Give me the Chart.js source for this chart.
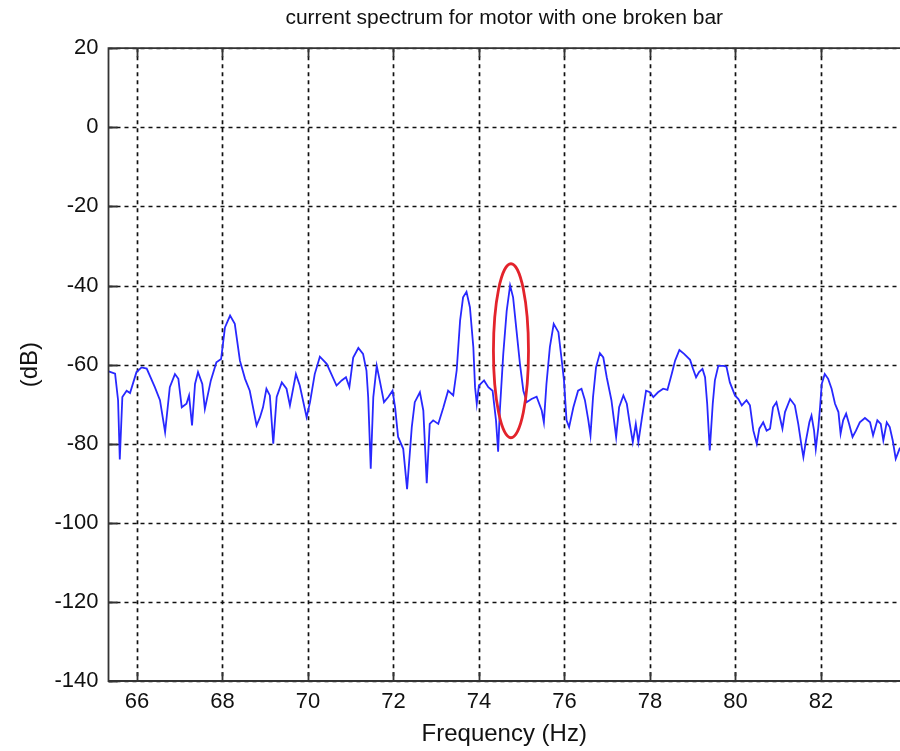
<!DOCTYPE html>
<html>
<head>
<meta charset="utf-8">
<script src="https://cdn.jsdelivr.net/npm/chart.js@4.4.1/dist/chart.umd.min.js"></script>
<style>
  html, body { margin: 0; padding: 0; background: #fff; overflow: hidden; }
  canvas { display: block; }
</style>
</head>
<body>
<canvas id="c" width="900" height="751"></canvas>
<script>
// ---- data ----
const freqHz = [
  65.34, 65.49, 65.56, 65.60, 65.66, 65.76, 65.84, 65.99, 66.11, 66.23,
  66.42, 66.54, 66.66, 66.77, 66.89, 66.97, 67.05, 67.16, 67.22, 67.29,
  67.36, 67.43, 67.53, 67.59, 67.73, 67.86, 67.97, 68.06, 68.18, 68.29,
  68.41, 68.53, 68.64, 68.80, 68.88, 68.95, 69.03, 69.11, 69.19, 69.27,
  69.39, 69.50, 69.58, 69.72, 69.81, 69.97, 70.05, 70.16, 70.28, 70.44,
  70.67, 70.79, 70.89, 70.97, 71.06, 71.18, 71.29, 71.37, 71.41, 71.47,
  71.53, 71.61, 71.68, 71.78, 71.88, 71.98, 72.04, 72.11, 72.23, 72.32,
  72.43, 72.50, 72.62, 72.70, 72.78, 72.85, 72.93, 73.05, 73.17, 73.28,
  73.40, 73.48, 73.56, 73.63, 73.71, 73.79, 73.87, 73.91, 73.95, 74.00,
  74.12, 74.22, 74.32, 74.40, 74.45, 74.49, 74.57, 74.65, 74.73, 74.80,
  74.88, 74.96, 75.04, 75.12, 75.23, 75.35, 75.47, 75.52, 75.58, 75.66,
  75.75, 75.86, 75.93, 75.99, 76.05, 76.11, 76.21, 76.32, 76.40, 76.48,
  76.56, 76.61, 76.67, 76.74, 76.83, 76.91, 76.99, 77.10, 77.21, 77.28,
  77.38, 77.46, 77.53, 77.60, 77.67, 77.73, 77.81, 77.91, 78.00, 78.08,
  78.19, 78.31, 78.41, 78.51, 78.59, 78.69, 78.80, 78.94, 79.01, 79.08,
  79.15, 79.23, 79.29, 79.34, 79.40, 79.47, 79.52, 79.60, 79.72, 79.79,
  79.87, 79.99, 80.07, 80.15, 80.26, 80.34, 80.42, 80.50, 80.56, 80.65,
  80.73, 80.81, 80.88, 80.96, 81.04, 81.10, 81.16, 81.28, 81.39, 81.47,
  81.55, 81.59, 81.65, 81.73, 81.78, 81.84, 81.88, 81.94, 81.98, 82.02,
  82.09, 82.17, 82.25, 82.33, 82.41, 82.46, 82.52, 82.59, 82.66, 82.74,
  82.82, 82.91, 83.03, 83.15, 83.22, 83.32, 83.40, 83.46, 83.54, 83.61,
  83.68, 83.75, 83.85
];
const levelDb = [
  -61.7, -62.3, -69.0, -84.0, -68.2, -66.6, -67.2, -61.9, -60.7, -61.0,
  -65.7, -69.0, -77.1, -65.7, -62.4, -63.6, -70.8, -69.9, -67.8, -75.4,
  -64.9, -61.9, -64.9, -71.2, -64.0, -59.4, -58.6, -50.6, -47.6, -49.7,
  -59.0, -63.6, -66.6, -75.4, -73.3, -70.8, -66.1, -67.8, -80.0, -68.2,
  -64.5, -66.1, -70.3, -62.4, -65.3, -73.3, -69.5, -62.4, -58.0, -59.8,
  -65.3, -64.0, -63.2, -65.7, -58.2, -55.8, -57.3, -61.5, -68.2, -86.3,
  -68.2, -60.3, -64.0, -69.5, -68.2, -66.6, -70.8, -78.3, -81.3, -91.5,
  -75.8, -69.5, -67.0, -71.6, -90.0, -75.0, -74.1, -75.0, -70.8, -66.6,
  -67.8, -61.5, -48.9, -43.0, -41.6, -45.5, -55.6, -65.7, -69.9, -65.3,
  -64.0, -65.7, -66.6, -74.1, -82.0, -71.6, -57.3, -46.4, -40.0, -43.0,
  -51.4, -59.8, -66.6, -69.5, -68.7, -68.1, -71.6, -74.6, -64.9, -55.6,
  -49.7, -51.8, -58.2, -64.0, -74.1, -75.8, -70.8, -66.6, -66.1, -69.0,
  -74.1, -77.9, -68.2, -60.7, -57.1, -58.2, -63.2, -69.0, -78.3, -70.8,
  -67.8, -69.9, -75.0, -79.6, -75.0, -79.6, -73.7, -66.6, -67.0, -68.2,
  -67.0, -66.1, -66.4, -62.4, -59.0, -56.3, -57.3, -58.8, -61.1, -63.2,
  -61.9, -61.1, -63.2, -69.9, -81.7, -69.9, -64.0, -60.3, -60.3, -60.5,
  -64.5, -67.8, -68.7, -70.3, -69.0, -70.3, -76.7, -80.0, -76.2, -74.6,
  -76.7, -76.2, -70.8, -69.5, -73.3, -76.2, -72.0, -68.7, -70.3, -75.0,
  -80.8, -83.4, -79.2, -74.6, -72.9, -76.7, -81.3, -75.8, -70.8, -64.9,
  -62.4, -63.6, -66.1, -69.9, -72.0, -77.5, -74.1, -72.4, -75.0, -78.3,
  -76.7, -74.6, -73.5, -74.6, -77.9, -74.1, -75.0, -79.2, -74.6, -75.8,
  -79.2, -83.8, -81.0
];
const xTickValues = [66, 68, 70, 72, 74, 76, 78, 80, 82];
const yTickValues = [-140, -120, -100, -80, -60, -40, -20, 0, 20];
const titleText = 'current spectrum for motor with one broken bar';
const xTitle = 'Frequency (Hz)';
const yTitle = '(dB)';
// marked sideband (red ellipse), in data units
const markFreq = 74.75, markDb = -56.5, markHalfHz = 0.41, markHalfDb = 22;

const FONT = 'Arial, "Liberation Sans", sans-serif';

const framePlugin = {
  id: 'matlabFrame',
  beforeDatasetsDraw(chart) {
    const {ctx, chartArea: a, scales: {x, y}} = chart;
    ctx.save();
    ctx.strokeStyle = '#111';
    ctx.lineWidth = 1.7;
    ctx.setLineDash([4, 4]);
    ctx.beginPath();
    xTickValues.forEach(v => {
      const px = Math.round(x.getPixelForValue(v)) + 0.5;
      ctx.moveTo(px, a.top); ctx.lineTo(px, a.bottom);
    });
    yTickValues.forEach(v => {
      const py = Math.round(y.getPixelForValue(v)) + 0.5;
      ctx.moveTo(a.left, py); ctx.lineTo(a.right, py);
    });
    ctx.stroke();
    ctx.restore();
  },
  afterDatasetsDraw(chart) {
    const {ctx, chartArea: a, scales: {x, y}} = chart;
    ctx.save();
    // red ellipse
    const cx = x.getPixelForValue(markFreq), cy = y.getPixelForValue(markDb);
    const rx = Math.abs(x.getPixelForValue(markFreq + markHalfHz) - cx);
    const ry = Math.abs(y.getPixelForValue(markDb + markHalfDb) - cy);
    ctx.strokeStyle = '#e3232b';
    ctx.lineWidth = 2.8;
    ctx.beginPath();
    ctx.ellipse(cx, cy, rx, ry, 0, 0, Math.PI * 2);
    ctx.stroke();
    // frame and inward ticks
    ctx.strokeStyle = '#333';
    ctx.lineWidth = 1.8;
    ctx.setLineDash([]);
    ctx.beginPath();
    ctx.moveTo(a.right, a.top); ctx.lineTo(a.left, a.top);
    ctx.lineTo(a.left, a.bottom); ctx.lineTo(a.right, a.bottom);
    const T = 9;
    xTickValues.forEach(v => {
      const px = Math.round(x.getPixelForValue(v)) + 0.5;
      ctx.moveTo(px, a.bottom); ctx.lineTo(px, a.bottom - T);
      ctx.moveTo(px, a.top); ctx.lineTo(px, a.top + T);
    });
    yTickValues.forEach(v => {
      const py = Math.round(y.getPixelForValue(v)) + 0.5;
      ctx.moveTo(a.left, py); ctx.lineTo(a.left + T, py);
    });
    ctx.stroke();
    ctx.restore();
  }
};

new Chart(document.getElementById('c'), {
  type: 'scatter',
  data: {
    datasets: [{
      data: freqHz.map((f, i) => ({x: f, y: levelDb[i]})),
      showLine: true,
      borderColor: 'rgb(40,40,255)',
      borderWidth: 1.8,
      pointRadius: 0,
      tension: 0,
      fill: false
    }]
  },
  options: {
    responsive: false,
    animation: false,
    layout: {padding: {left: 0, right: 0, top: 0, bottom: 0}},
    plugins: {
      legend: {display: false},
      tooltip: {enabled: false},
      title: {
        display: true,
        text: titleText,
        fullSize: false,
        color: '#111',
        font: {family: FONT, size: 21, weight: 'normal'},
        padding: {top: 6, bottom: 17}
      }
    },
    scales: {
      x: {
        type: 'linear',
        min: 65.336,
        max: 83.85,
        afterBuildTicks: s => { s.ticks = xTickValues.map(v => ({value: v})); },
        afterFit: s => { s.height = 70; },
        grid: {display: false, drawTicks: false},
        border: {display: false},
        ticks: {color: '#111', font: {family: FONT, size: 22}, padding: 8, maxRotation: 0, autoSkip: false},
        title: {display: true, text: xTitle, color: '#111', font: {family: FONT, size: 24}, padding: {top: 0, bottom: 2}}
      },
      y: {
        type: 'linear',
        min: -140,
        max: 20,
        afterBuildTicks: s => { s.ticks = yTickValues.map(v => ({value: v})); },
        afterFit: s => { s.width = 108.5; },
        grid: {display: false, drawTicks: false},
        border: {display: false},
        ticks: {color: '#111', font: {family: FONT, size: 22}, padding: 10, autoSkip: false},
        title: {display: true, text: yTitle, color: '#111', font: {family: FONT, size: 24}, padding: {top: 16, bottom: 0}}
      }
    }
  },
  plugins: [framePlugin]
});
</script>
</body>
</html>
